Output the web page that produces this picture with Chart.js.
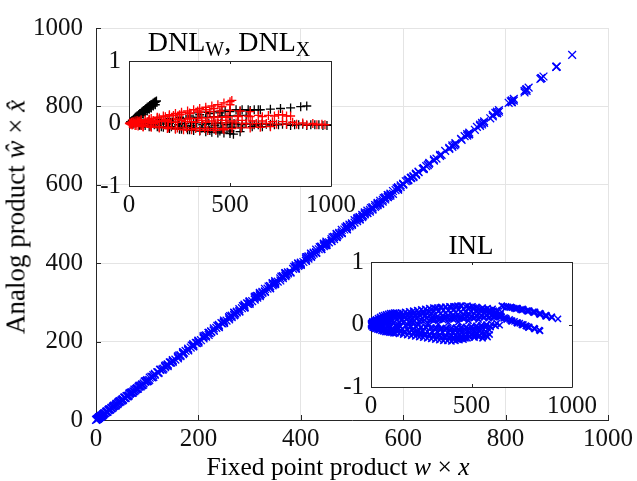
<!DOCTYPE html>
<html>
<head>
<meta charset="utf-8">
<script src="https://cdn.jsdelivr.net/npm/chart.js@4.4.0/dist/chart.umd.min.js"></script>
<style>
  body { margin: 0; background: #fff; }
  #wrap { position: relative; width: 637px; height: 481px; font-family: 'Liberation Serif', 'Times New Roman', serif; color: #000; }
  #wrap canvas { position: absolute; left: 0; top: 0; }
  .lbl { position: absolute; white-space: nowrap; font-size: 27px; line-height: 27px; }
  .lbl i { font-style: italic; }
  .sub { font-size: 20px; position: relative; top: 5px; }
</style>
</head>
<body>
<div id="wrap">
  <canvas id="mainChart" width="637" height="481"></canvas>
  <canvas id="dnlChart" width="637" height="481"></canvas>
  <canvas id="inlChart" width="637" height="481"></canvas>
  <div class="lbl" id="xTitle" style="left:338px; top:453px; font-size:25.5px; transform:translateX(-50%);">Fixed point product <i>w</i> × <i>x</i></div>
  <div class="lbl" id="yTitle" style="left:16px; top:217px; transform:translate(-50%,-50%) rotate(-90deg);">Analog product <i>ŵ</i> × <i>x̂</i></div>
  <div class="lbl" id="dnlTitle" style="left:229px; top:28px; font-size:28px; transform:translateX(-50%);">DNL<span class="sub">W</span>, DNL<span class="sub">X</span></div>
  <div class="lbl" id="inlTitle" style="left:471px; top:232px; transform:translateX(-50%);">INL</div>
</div>
<script>
// tick values
const mainTicks = [0, 200, 400, 600, 800, 1000];
const insetXTicks = [0, 500, 1000];
const insetYTicks = [-1, 0, 1];

// product units per INL unit (the INL inset is normalised)
const inlUnit = 16;

// fixed point products and their INL error
const fixedProduct = [
  5, 15, 25, 35, 45, 55, 65, 75, 85, 95, 105, 115, 125, 135,
  3, 12, 22, 32, 42, 52, 62, 72, 82, 92, 102, 112, 122, 140, 160, 180, 200,
  0, 2, 4, 6, 8, 10, 14, 18, 24, 28, 30, 36, 40, 48, 50, 56, 60, 64, 70, 80, 90, 100,
  150, 170, 190, 210, 230, 250, 270, 290, 310, 330, 350, 370, 390, 410, 430, 450,
  120, 145, 170, 195, 220, 245, 270, 295, 320, 345, 370, 395, 420, 445, 470, 495, 520, 545, 570, 595,
  110, 135, 160, 185, 210, 235, 260, 285, 310, 335, 360, 385, 410, 435, 460, 485, 510, 535, 560, 585, 610, 630,
  130, 155, 180, 205, 230, 255, 280, 305, 330, 355, 380, 405, 430, 455, 480, 505, 530, 555,
  220, 240, 260, 280, 300, 320, 340, 360, 380, 400, 420, 440, 460, 480,
  400, 420, 440, 460, 480, 500, 520, 540, 560, 580,
  651, 660, 682, 690, 713, 720, 744, 750, 775, 780, 806, 810, 837, 840, 868, 870, 899, 900, 930,
  600, 620, 640, 660, 675, 696, 700, 725, 728, 750, 754, 775, 783, 784, 812, 841,
  470, 490, 510, 530, 550, 570, 590, 610, 630, 650,
  200, 225, 250, 275, 300, 325, 350, 375, 400, 425, 450, 475, 500, 525, 550, 575, 600, 625,
  20, 40, 60, 80, 100, 120, 140, 160, 180, 200, 220, 240, 260, 280, 300,
  10, 30, 50, 70, 90, 110, 130, 150, 170, 190, 210, 230, 250, 270, 290,
  300, 315, 340, 365, 390, 415, 440, 465, 490, 515, 540, 565, 590, 615, 640,
  250, 270, 290, 310, 330, 350, 370, 390, 410, 430, 450, 470, 490, 510, 530, 550, 570, 590,
  150, 175, 200, 225, 250, 275, 300, 325, 350, 375, 400, 425, 450, 475, 500, 525, 550, 575, 600, 625, 645,
  1, 3, 5, 7, 9, 11, 13, 16, 20, 22, 26, 33, 38, 44, 46, 52, 58, 66, 68, 75, 78, 84, 88, 96, 99, 104, 108, 115, 126, 132, 144,
  320, 345, 370, 395, 420, 445, 470, 495, 520, 545, 570, 595, 620, 640,
  672, 696, 702, 725, 729, 754, 758, 783, 787, 812, 816, 841, 845, 870, 874, 899,
  608, 616, 625, 638, 648, 665, 672, 690, 702, 714, 729, 740, 758, 770, 787, 812, 816, 837,
  112, 137, 162, 187, 212, 237, 262, 287, 312, 337, 362, 387, 412, 437, 462, 487, 512, 537, 562, 587,
  122, 147, 172, 197, 222, 247, 272, 297, 322, 347, 372, 397, 422, 447, 472, 497, 522, 547, 572,
  165, 190, 215, 240, 265, 290, 315, 340, 365, 390, 415, 440, 465, 490, 515, 540, 565,
  140, 165, 190, 215, 240, 265, 290, 315, 340, 365, 390, 415, 440, 465, 490, 515, 540, 565, 590, 615,
  6, 14, 21, 27, 34, 39, 43, 47, 53, 57, 63, 67, 73, 77, 83, 87, 93, 97,
  320, 345, 370, 395, 420, 445, 480, 505, 525, 555, 580, 605, 625,
  390, 410, 430, 450, 470, 490, 515, 535, 555, 575, 590
];
const inlError = [
  0.02, 0.05, 0.08, 0.1, 0.12, 0.14, 0.15, 0.16, 0.17, 0.18, 0.18, 0.19, 0.19, 0.18,
  -0.03, -0.05, -0.07, -0.08, -0.09, -0.1, -0.11, -0.12, -0.12, -0.13, -0.13, -0.14, -0.14, -0.15, -0.16, -0.17, -0.18,
  0, 0.01, -0.01, 0.03, -0.02, 0, 0.04, -0.04, 0.02, -0.06, 0.05, -0.02, 0.06, -0.05, 0.03, 0, 0.08, -0.07, 0.02, -0.03, 0.05, -0.08,
  0.19, 0.2, 0.21, 0.22, 0.23, 0.24, 0.25, 0.26, 0.27, 0.27, 0.28, 0.28, 0.29, 0.29, 0.3, 0.3,
  0.1, 0.11, 0.12, 0.12, 0.13, 0.14, 0.15, 0.15, 0.16, 0.17, 0.18, 0.18, 0.19, 0.2, 0.2, 0.21, 0.21, 0.22, 0.22, 0.22,
  0.02, 0, 0.03, -0.01, 0.04, 0, 0.05, 0.02, 0.06, 0.01, 0.07, 0.03, 0.08, 0.04, 0.09, 0.06, 0.1, 0.08, 0.11, 0.1, 0.12, 0.13,
  -0.06, -0.07, -0.08, -0.09, -0.1, -0.1, -0.11, -0.12, -0.12, -0.12, -0.13, -0.12, -0.12, -0.11, -0.1, -0.09, -0.08, -0.06,
  -0.19, -0.2, -0.21, -0.22, -0.23, -0.24, -0.25, -0.26, -0.26, -0.27, -0.26, -0.25, -0.24, -0.22,
  -0.18, -0.18, -0.17, -0.17, -0.16, -0.16, -0.17, -0.18, -0.19, -0.2,
  0.3, 0.29, 0.28, 0.27, 0.26, 0.25, 0.24, 0.23, 0.22, 0.21, 0.2, 0.19, 0.17, 0.16, 0.14, 0.13, 0.12, 0.11, 0.09,
  0.15, 0.13, 0.12, 0.1, 0.08, 0.06, 0.05, 0.03, 0.02, 0, -0.01, -0.03, -0.04, -0.05, -0.07, -0.1,
  0.29, 0.28, 0.27, 0.26, 0.25, 0.24, 0.23, 0.22, 0.21, 0.2,
  -0.03, -0.04, -0.04, -0.05, -0.05, -0.06, -0.06, -0.06, -0.05, -0.05, -0.04, -0.04, -0.03, -0.02, -0.01, 0, 0.01, 0.02,
  0.04, 0.06, 0.07, 0.09, 0.1, 0.11, 0.12, 0.13, 0.14, 0.15, 0.15, 0.16, 0.17, 0.17, 0.18,
  -0.02, -0.04, -0.05, -0.06, -0.07, -0.08, -0.09, -0.1, -0.11, -0.12, -0.13, -0.14, -0.14, -0.15, -0.16,
  0.09, 0.1, 0.11, 0.12, 0.13, 0.13, 0.14, 0.15, 0.16, 0.17, 0.17, 0.18, 0.18, 0.17, 0.16,
  -0.15, -0.16, -0.17, -0.18, -0.19, -0.2, -0.2, -0.21, -0.21, -0.2, -0.2, -0.19, -0.18, -0.17, -0.15, -0.13, -0.11, -0.09,
  0.07, 0.08, 0.06, 0.09, 0.07, 0.1, 0.08, 0.11, 0.09, 0.12, 0.1, 0.13, 0.11, 0.14, 0.12, 0.14, 0.13, 0.15, 0.14, 0.15, 0.16,
  0.02, -0.02, 0, 0.05, -0.05, 0.03, -0.03, 0.06, 0.01, -0.06, 0.07, 0.04, -0.07, 0.09, -0.01, 0.1, -0.09, 0.06, 0.11, -0.1, 0.04, 0.12, -0.02, 0.13, 0.07, -0.11, 0.14, 0.03, 0.15, -0.04, 0.16,
  -0.08, -0.09, -0.09, -0.1, -0.1, -0.1, -0.09, -0.09, -0.08, -0.07, -0.05, -0.04, -0.02, -0.01,
  0.29, 0.28, 0.27, 0.26, 0.26, 0.25, 0.24, 0.22, 0.22, 0.2, 0.2, 0.18, 0.17, 0.15, 0.14, 0.12,
  0.16, 0.15, 0.15, 0.14, 0.13, 0.11, 0.1, 0.08, 0.06, 0.05, 0.03, 0.02, 0, -0.02, -0.04, -0.06, -0.07, -0.09,
  0.14, 0.15, 0.16, 0.17, 0.18, 0.19, 0.2, 0.21, 0.22, 0.22, 0.23, 0.23, 0.24, 0.24, 0.25, 0.25, 0.25, 0.24, 0.24, 0.23,
  -0.02, -0.03, -0.02, -0.04, -0.03, -0.05, -0.04, -0.06, -0.05, -0.07, -0.06, -0.07, -0.06, -0.06, -0.05, -0.05, -0.04, -0.03, -0.02,
  -0.12, -0.13, -0.14, -0.15, -0.16, -0.17, -0.18, -0.19, -0.2, -0.2, -0.21, -0.22, -0.21, -0.2, -0.19, -0.17, -0.15,
  0.04, 0.05, 0.05, 0.06, 0.06, 0.07, 0.07, 0.08, 0.08, 0.09, 0.09, 0.1, 0.1, 0.1, 0.11, 0.11, 0.12, 0.12, 0.12, 0.12,
  0.04, -0.05, 0.06, -0.03, 0.07, -0.08, 0.02, 0.09, -0.06, 0.05, -0.1, 0.11, 0, -0.07, 0.08, -0.11, 0.03, 0.12,
  0.26, 0.27, 0.28, 0.28, 0.29, 0.3, 0.3, 0.29, 0.28, 0.27, 0.26, 0.25, 0.23,
  -0.23, -0.24, -0.24, -0.23, -0.22, -0.2, -0.21, -0.2, -0.22, -0.18, -0.16
];

// DNL of the weight (black)
const dnlWProduct = [
  150, 200, 250, 300, 350, 400, 450, 500, 550, 600, 650, 700, 750, 800, 850, 880,
  300, 340, 380, 420, 460, 476, 500, 530, 560, 590, 620, 640,
  200, 260, 320, 380, 440, 500, 540, 580, 620, 660, 700, 740, 780, 820, 860, 900, 940, 980,
  20, 50, 80, 110, 140, 170, 200, 230, 260, 290, 320, 350, 380, 410, 440, 470, 500, 517,
  60, 110, 160, 210, 260, 310, 360, 410, 460, 510, 560, 610, 660, 700,
  100, 140, 180, 220, 260, 300, 340, 380, 420, 460, 500, 540, 580,
  15, 35, 55, 75, 95, 125, 155, 185, 215, 245, 275, 305, 335, 365, 395, 425, 455, 485,
  50, 100, 150, 200, 250, 300, 350, 400, 450, 500, 550,
  520, 560, 600, 640, 680, 720, 760, 800, 840, 880, 920, 960,
  6, 12, 18, 24, 30, 36, 42, 48, 54, 60, 66, 72, 78, 84, 90, 96, 102, 108, 114, 120, 126, 132,
  10, 20, 30, 40, 50, 60, 70, 80, 90, 100, 110, 120, 130,
  8, 16, 24, 32, 40, 48, 56, 64, 72, 80, 88, 96, 104, 112, 120, 128, 136
];
const dnlW = [
  0.06, 0.08, 0.1, 0.12, 0.14, 0.16, 0.17, 0.19, 0.2, 0.21, 0.22, 0.23, 0.24, 0.25, 0.27, 0.28,
  0.16, 0.17, 0.18, 0.19, 0.2, 0.21, 0.21, 0.22, 0.22, 0.22, 0.22, 0.22,
  0.01, 0, 0.01, -0.01, 0, 0.01, -0.01, 0, -0.02, 0, -0.01, -0.02, -0.01, -0.02, -0.01, -0.02, -0.02, -0.03,
  -0.01, -0.02, -0.03, -0.04, -0.05, -0.06, -0.07, -0.08, -0.09, -0.1, -0.11, -0.12, -0.13, -0.14, -0.15, -0.15, -0.16, -0.17,
  -0.03, -0.04, -0.05, -0.05, -0.06, -0.06, -0.07, -0.07, -0.07, -0.06, -0.06, -0.05, -0.05, -0.04,
  0.04, 0.05, 0.06, 0.07, 0.08, 0.09, 0.1, 0.1, 0.11, 0.12, 0.12, 0.13, 0.13,
  0, 0.01, -0.01, 0, 0.02, -0.02, 0.01, -0.01, 0.02, -0.02, 0, -0.03, 0.01, -0.02, 0, -0.03, 0.01, -0.02,
  -0.03, -0.05, -0.06, -0.08, -0.09, -0.1, -0.11, -0.11, -0.12, -0.12, -0.13,
  0, -0.02, -0.01, -0.02, -0.01, -0.02, -0.01, -0.03, -0.02, -0.03, -0.02, -0.03,
  0.01, 0.03, 0.05, 0.07, 0.09, 0.1, 0.12, 0.14, 0.16, 0.17, 0.19, 0.21, 0.22, 0.24, 0.26, 0.27, 0.29, 0.3, 0.31, 0.33, 0.34, 0.35,
  0, 0.02, 0.05, 0.08, 0.1, 0.13, 0.15, 0.18, 0.2, 0.23, 0.25, 0.28, 0.3,
  0.03, 0.05, 0.07, 0.1, 0.12, 0.14, 0.16, 0.18, 0.2, 0.22, 0.24, 0.26, 0.28, 0.3, 0.32, 0.34, 0.36
];

// DNL of the input (red)
const dnlXProduct = [
  20, 50, 80, 110, 140, 170, 200, 230, 260, 290, 320, 350, 380, 410, 440, 470, 500, 509,
  40, 90, 140, 190, 240, 290, 340, 390, 440, 490, 540, 590, 640, 690, 740, 760,
  100, 150, 200, 250, 300, 350, 400, 450, 500, 550, 600,
  30, 80, 130, 180, 230, 280, 330, 380, 430, 480, 530, 580, 630, 680, 730, 780, 830, 880, 930, 970,
  15, 60, 105, 150, 195, 240, 285, 330, 375, 420, 465, 510, 555, 600, 650, 700,
  2, 5, 8, 12, 16, 20, 25, 30, 35, 40, 45, 50, 60, 70,
  60, 100, 140, 180, 220, 260, 300, 340, 380, 420, 460, 500,
  10, 45, 70, 95, 120, 160, 210, 260, 310, 360, 410, 460, 510, 560, 610, 660, 710, 760, 810, 860, 910, 955,
  30, 70, 110, 150, 190, 230, 270, 310, 350, 390, 430, 470,
  120, 180, 240, 300, 360, 420, 480, 540, 600, 660, 720, 780, 800
];
const dnlX = [
  0.02, 0.04, 0.06, 0.08, 0.1, 0.12, 0.14, 0.16, 0.18, 0.2, 0.22, 0.24, 0.26, 0.28, 0.3, 0.33, 0.35, 0.37,
  0.02, 0.03, 0.04, 0.05, 0.06, 0.07, 0.08, 0.09, 0.1, 0.11, 0.12, 0.12, 0.13, 0.13, 0.14, 0.14,
  0.06, 0.09, 0.12, 0.14, 0.16, 0.18, 0.19, 0.2, 0.21, 0.2, 0.19,
  0.01, 0.02, 0.02, 0.03, 0.02, 0.03, 0.02, 0.02, 0.01, 0.01, 0.01, 0, 0, 0, -0.01, -0.01, -0.01, -0.02, -0.02, -0.02,
  -0.02, -0.03, -0.04, -0.05, -0.06, -0.07, -0.07, -0.08, -0.08, -0.08, -0.08, -0.08, -0.07, -0.07, -0.06, -0.05,
  0, 0.01, -0.01, 0.02, -0.02, 0.03, 0, 0.04, -0.03, 0.05, -0.04, 0.03, 0.06, -0.05,
  0.04, 0.07, 0.09, 0.11, 0.13, 0.15, 0.17, 0.2, 0.22, 0.24, 0.27, 0.3,
  0, 0.02, -0.01, 0.03, 0, 0.04, 0.02, 0.05, 0.03, 0.05, 0.04, 0.05, 0.04, 0.05, 0.04, 0.04, 0.03, 0.03, 0.02, 0.01, 0, -0.01,
  -0.03, -0.05, -0.06, -0.07, -0.08, -0.09, -0.1, -0.1, -0.11, -0.11, -0.11, -0.1,
  0.05, 0.06, 0.07, 0.08, 0.09, 0.1, 0.1, 0.11, 0.11, 0.11, 0.12, 0.12, 0.12
];

const W = 637, H = 481;
const axisColor = '#262626';
Chart.defaults.font.family = 'Liberation Serif';
const tickFont = { family: 'Liberation Serif', size: 25 };

function pairs(xs, ys) {
  return xs.map((v, i) => ({ x: v, y: ys[i] }));
}

function fixedTicks(values) {
  return (scale) => { scale.ticks = values.map((v) => ({ value: v })); };
}

// inward tick marks, optionally a full box (insets)
function frame(id, xTicks, yTicks, len, box, whiteFill) {
  return {
    id,
    beforeDraw(chart) {
      if (!whiteFill) return;
      const a = chart.chartArea;
      const ctx = chart.ctx;
      ctx.save();
      ctx.fillStyle = '#fff';
      ctx.fillRect(a.left, a.top, a.right - a.left, a.bottom - a.top);
      ctx.restore();
    },
    beforeDatasetsDraw(chart) {
      const { ctx, chartArea: a, scales: { x, y } } = chart;
      ctx.save();
      ctx.strokeStyle = axisColor;
      ctx.lineWidth = 1;
      ctx.beginPath();
      xTicks.forEach((v) => {
        const px = Math.round(x.getPixelForValue(v)) + 0.5;
        ctx.moveTo(px, a.bottom); ctx.lineTo(px, a.bottom - len);
        if (box) { ctx.moveTo(px, a.top); ctx.lineTo(px, a.top + len); }
      });
      yTicks.forEach((v) => {
        const py = Math.round(y.getPixelForValue(v)) + 0.5;
        ctx.moveTo(a.left, py); ctx.lineTo(a.left + len, py);
        if (box) { ctx.moveTo(a.right, py); ctx.lineTo(a.right - len, py); }
      });
      if (box) {
        ctx.rect(Math.round(a.left) + 0.5, Math.round(a.top) + 0.5,
          Math.round(a.right - a.left), Math.round(a.bottom - a.top));
      }
      ctx.stroke();
      ctx.restore();
    }
  };
}

function scatterChart(id, datasets, area, ranges, xTicks, yTicks, opts) {
  return new Chart(document.getElementById(id), {
    type: 'scatter',
    data: { datasets },
    options: {
      responsive: false,
      animation: false,
      devicePixelRatio: 1,
      layout: { padding: { left: 0, top: area.top, right: W - area.right, bottom: 0 } },
      plugins: { legend: { display: false }, tooltip: { enabled: false } },
      scales: {
        x: {
          type: 'linear', min: ranges.x[0], max: ranges.x[1],
          afterBuildTicks: fixedTicks(xTicks),
          afterFit: (s) => { s.height = H - area.bottom; },
          grid: { display: opts.grid, color: '#e4e4e4', drawTicks: false },
          border: { display: opts.grid, color: axisColor },
          ticks: { font: tickFont, color: '#111', padding: 4, maxRotation: 0, autoSkip: false, callback: (v) => String(v) }
        },
        y: {
          type: 'linear', min: ranges.y[0], max: ranges.y[1],
          afterBuildTicks: fixedTicks(yTicks),
          afterFit: (s) => { s.width = area.left; },
          grid: { display: opts.grid, color: '#e4e4e4', drawTicks: false },
          border: { display: opts.grid, color: axisColor },
          ticks: { font: tickFont, color: '#111', padding: opts.yPad, autoSkip: false, callback: (v) => String(v) }
        }
      }
    },
    plugins: [opts.plugin]
  });
}

const markerBase = { showLine: false, clip: false, borderWidth: 1, pointHoverRadius: 0 };

// main plot: analog product = fixed product + INL error (in product units)
const analogProduct = fixedProduct.map((p, i) => p + inlError[i] * inlUnit);

scatterChart('mainChart', [
  Object.assign({}, markerBase, {
    data: pairs(fixedProduct, analogProduct),
    pointStyle: 'crossRot', pointRadius: 5.5, borderWidth: 1.3,
    borderColor: '#0000ff', backgroundColor: '#0000ff'
  })
], { left: 96, right: 609, top: 22, bottom: 420 }, { x: [0, 1000], y: [0, 1000] },
  mainTicks, mainTicks,
  { grid: true, yPad: 13, plugin: frame('mainFrame', mainTicks, mainTicks, 5, false, false) });

scatterChart('dnlChart', [
  Object.assign({}, markerBase, {
    data: pairs(dnlXProduct, dnlX),
    pointStyle: 'cross', pointRadius: 4.5, borderWidth: 1.3,
    borderColor: '#ff0000', backgroundColor: '#ff0000'
  }),
  Object.assign({}, markerBase, {
    data: pairs(dnlWProduct, dnlW),
    pointStyle: 'cross', pointRadius: 4.5, borderWidth: 1.3,
    borderColor: '#000000', backgroundColor: '#000000'
  })
], { left: 129, right: 331, top: 61, bottom: 186 }, { x: [0, 1000], y: [-1, 1] },
  insetXTicks, insetYTicks,
  { grid: false, yPad: 8, plugin: frame('dnlFrame', insetXTicks, insetYTicks, 3, true, true) });

scatterChart('inlChart', [
  Object.assign({}, markerBase, {
    data: pairs(fixedProduct, inlError),
    pointStyle: 'crossRot', pointRadius: 4.4, borderWidth: 1.5,
    borderColor: '#0000ff', backgroundColor: '#0000ff'
  })
], { left: 371, right: 572, top: 262, bottom: 387 }, { x: [0, 1000], y: [-1, 1] },
  insetXTicks, insetYTicks,
  { grid: false, yPad: 7, plugin: frame('inlFrame', insetXTicks, insetYTicks, 3, true, true) });
</script>
</body>
</html>
